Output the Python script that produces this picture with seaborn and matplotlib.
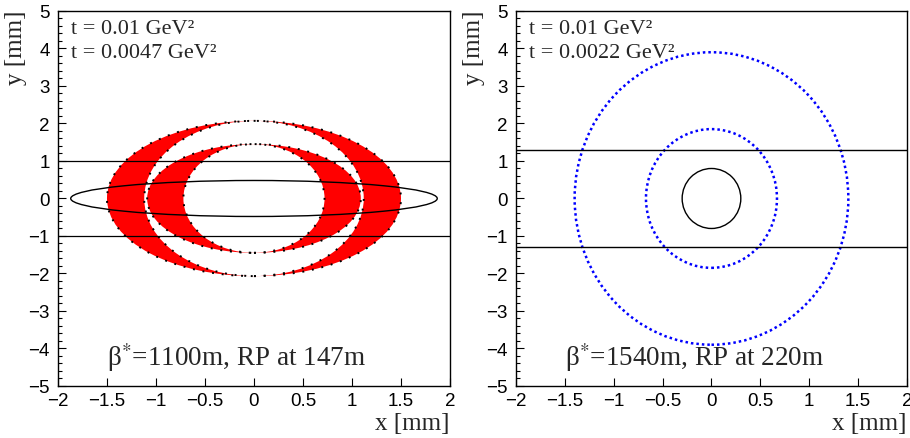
import matplotlib
matplotlib.use("Agg")
import matplotlib.pyplot as plt
import seaborn as sns
from matplotlib.patches import Ellipse
from matplotlib.ticker import MultipleLocator

# -----------------------------
# Data (mm)
# -----------------------------
# left panel: beta*=1100m, RP at 147m
crescent_outer_a = [1.50, 1.09]   # outer edge of the red crescents (x half-width)
crescent_outer_b = [2.07, 1.45]   # outer edge (y half-height)
crescent_inner_a = [1.12, 0.72]   # inner (white) edge
crescent_inner_b = [2.07, 1.45]
beam_left = [1.87, 0.48]          # beam envelope ellipse half-axes
cut_left = [-1.0, 1.0]            # RP edges

# right panel: beta*=1540m, RP at 220m
ring_a = [1.40, 0.67]
ring_b = [3.90, 1.85]
beam_right = [0.30, 0.80]
cut_right = [-1.3, 1.3]

t_labels_left = ["t = 0.01 GeV²", "t = 0.0047 GeV²"]
t_labels_right = ["t = 0.01 GeV²", "t = 0.0022 GeV²"]
titles = ["β$^{*}$=1100m, RP at 147m", "β$^{*}$=1540m, RP at 220m"]

# -----------------------------
# Style
# -----------------------------
sns.set_theme(style="ticks")
plt.rcParams["font.family"] = ["Liberation Sans", "DejaVu Sans"]
plt.rcParams["mathtext.fontset"] = "stix"
serif = ["Liberation Serif", "DejaVu Serif"]

fig = plt.figure(figsize=(9.1, 4.39), dpi=100)
ax1 = fig.add_axes([0.0637, 0.1185, 0.4308, 0.8542])
ax2 = fig.add_axes([0.567, 0.1185, 0.4297, 0.8542])


def frame(ax, t_labels, title):
    ax.set_xlim(-2, 2)
    ax.set_ylim(-5, 5)
    for s in ax.spines.values():
        s.set_visible(True)
        s.set_color("black")
        s.set_linewidth(1.0)
    ax.xaxis.set_major_locator(MultipleLocator(0.5))
    ax.yaxis.set_major_locator(MultipleLocator(1))
    ax.yaxis.set_minor_locator(MultipleLocator(0.2))
    ax.tick_params(axis="both", which="both", direction="in", top=False, right=False,
                   colors="black", labelsize=13.5)
    ax.tick_params(axis="both", which="major", length=6, width=0.8)
    ax.tick_params(axis="y", which="minor", length=3, width=0.8)
    ax.tick_params(axis="y", which="major", pad=6)
    ax.tick_params(axis="x", which="major", pad=4)
    ax.set_xticklabels([f"{v:g}".replace("-", "\u2212") for v in ax.get_xticks()])
    ax.set_yticklabels([f"{v:g}".replace("-", "\u2212") for v in ax.get_yticks()])
    ax.set_xlabel("x [mm]", family=serif, fontsize=18, ha="right")
    ax.xaxis.set_label_coords(1.0, -0.07)
    ax.set_ylabel("y [mm]", family=serif, fontsize=18, ha="right")
    ax.yaxis.set_label_coords(-0.08, 1.005)
    ax.text(-1.87, 4.40, t_labels[0], family=serif, fontsize=16)
    ax.text(-1.87, 3.77, t_labels[1], family=serif, fontsize=16)
    ax.text(-1.5, -4.44, title, family=serif, fontsize=19.5)


# -----------------------------
# Left panel – red crescents
# -----------------------------
for oa, ob, ia, ib in zip(crescent_outer_a, crescent_outer_b, crescent_inner_a, crescent_inner_b):
    ax1.add_patch(Ellipse((0, 0), 2 * oa, 2 * ob, facecolor="red", edgecolor="none", zorder=1))
    ax1.add_patch(Ellipse((0, 0), 2 * ia, 2 * ib, facecolor="white", edgecolor="none", zorder=1))
for a, b in zip(crescent_outer_a + crescent_inner_a, crescent_outer_b + crescent_inner_b):
    ax1.add_patch(Ellipse((0, 0), 2 * a, 2 * b, facecolor="none", edgecolor="black",
                          linestyle=(0, (1, 4)), linewidth=1.4, zorder=2))
ax1.add_patch(Ellipse((0, 0), 2 * beam_left[0], 2 * beam_left[1], facecolor="none",
                      edgecolor="black", linewidth=1.0, zorder=3))
for yc in cut_left:
    ax1.axhline(yc, color="black", linewidth=0.9, zorder=3)
frame(ax1, t_labels_left, titles[0])

# -----------------------------
# Right panel – blue dotted t-contours
# -----------------------------
for a, b in zip(ring_a, ring_b):
    ax2.add_patch(Ellipse((0, 0), 2 * a, 2 * b, facecolor="none", edgecolor="blue",
                          linestyle=(0, (1, 1.2)), linewidth=1.8, zorder=2))
ax2.add_patch(Ellipse((0, 0), 2 * beam_right[0], 2 * beam_right[1], facecolor="none",
                      edgecolor="black", linewidth=1.0, zorder=3))
for yc in cut_right:
    ax2.axhline(yc, color="black", linewidth=1.0, zorder=3)
frame(ax2, t_labels_right, titles[1])

fig.savefig("out.png", dpi=100)
